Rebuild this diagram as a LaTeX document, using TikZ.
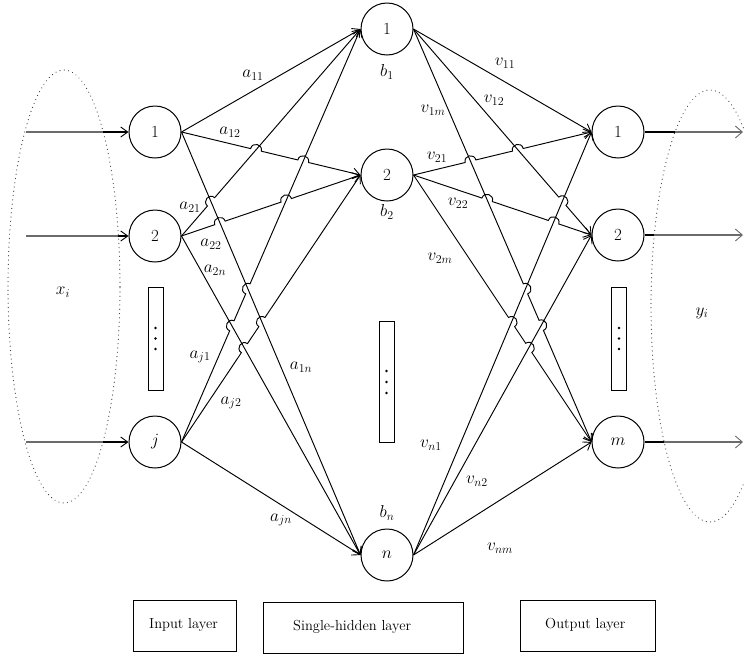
\documentclass[tikz,border=0pt]{standalone}
\usetikzlibrary{arrows.meta,calc,intersections}
\newcommand{\hopat}[3]{%
  \coordinate (#1a) at ($(#1)!5.5pt!(#2)$);
  \coordinate (#1b) at ($(#1)!5.5pt!(#3)$);
  \coordinate (#1c) at ($(#1a)!7.3pt!90:(#1)$);
  \coordinate (#1d) at ($(#1b)!7.3pt!-90:(#1)$);}
\begin{document}
\begin{tikzpicture}[x=1pt,y=-1pt,
  neuron/.style={circle,draw,line width=1pt,minimum size=52pt,inner sep=0pt,font=\fontsize{17}{19}\selectfont},
  conn/.style={line width=0.95pt,-{Straight Barb[length=7pt,width=10pt,line width=0.9pt]}},
  thickout/.style={line width=1.4pt},
  grayline/.style={line width=1.1pt,black!58},
  grayarr/.style={line width=1.1pt,black!58,-{Straight Barb[length=7pt,width=12pt,line width=0.9pt]}},
  lbl/.style={font=\fontsize{17}{19}\selectfont,inner sep=0pt},
  dotbox/.style={draw,line width=1pt,minimum width=15pt,inner sep=0pt},
  layerbox/.style={draw,line width=1pt,inner sep=0pt},
  boxtxt/.style={font=\fontsize{14.5}{16}\selectfont,inner sep=0pt,anchor=west},
  ell/.style={black!75,line width=1.2pt,dash pattern=on 0.01pt off 4.3pt,line cap=round}]
\useasboundingbox (0,0) rectangle (744,654);
\clip (0,0) rectangle (744,654);

% dotted ellipses
\draw[ell] (64,286.5) ellipse [x radius=56pt, y radius=216.5pt];
\draw[ell] (710,306) ellipse [x radius=59pt, y radius=216pt];

% neurons
\node[neuron] (i1) at (155,132) {1};
\node[neuron] (i2) at (155,236) {2};
\node[neuron] (ij) at (155,442) {$j$};
\node[neuron] (h1) at (387,29) {1};
\node[neuron] (h2) at (387,175) {2};
\node[neuron] (hn) at (387,555) {$n$};
\node[neuron] (o1) at (618,132) {1};
\node[neuron] (o2) at (618,235) {2};
\node[neuron] (om) at (618,442) {$m$};

% dots boxes
\node[dotbox,minimum height=103pt] (d1) at (155.5,338.5) {};
\node[dotbox,minimum height=121pt] (d2) at (386.5,381.5) {};
\node[dotbox,minimum height=103pt] (d3) at (619,338.5) {};
\foreach \yy in {328,338.5,349} {\fill (155.5,\yy) circle (1.3pt); \fill (619,\yy) circle (1.3pt);}
\foreach \yy in {371,382,393} {\fill (386.5,\yy) circle (1.3pt);}

% input arrows
\coordinate (s1) at (26,132); \coordinate (g1) at (103,132);
\coordinate (s2) at (26,236); \coordinate (g2) at (118,236);
\coordinate (sj) at (26,442); \coordinate (gj) at (103,442);
\draw[grayline] (s1) -- (g1); \draw[conn,line width=1.3pt] (g1) -- (i1.west);
\draw[grayline] (s2) -- (g2); \draw[conn,line width=1.3pt] (g2) -- (i2.west);
\draw[grayline] (sj) -- (gj); \draw[conn,line width=1.3pt] (gj) -- (ij.west);

% output arrows
\coordinate (e1) at (675,132); \coordinate (t1) at (743,132);
\coordinate (e2) at (654,235); \coordinate (t2) at (743,235);
\coordinate (em) at (664,442); \coordinate (tm) at (743,442);
\draw[thickout] (o1.east) -- (e1); \draw[grayarr] (e1) -- (t1);
\draw[thickout] (o2.east) -- (e2); \draw[grayarr] (e2) -- (t2);
\draw[thickout] (om.east) -- (em); \draw[grayarr] (em) -- (tm);

% ---------- input -> hidden ----------
\path[name path=L1n] (i1.east) -- (hn.west);
\path[name path=L2n] (i2.east) -- (hn.west);
\path[name path=L12] (i1.east) -- (h2.west);
\path[name path=L21] (i2.east) -- (h1.west);
\path[name path=L22] (i2.east) -- (h2.west);
\path[name path=Lj1] (ij.east) -- (h1.west);
\path[name path=Lj2] (ij.east) -- (h2.west);
\path[name intersections={of=L12 and L21,by=p1}];
\path[name intersections={of=L12 and Lj1,by=p2}];
\path[name intersections={of=L21 and L1n,by=p3}];
\path[name intersections={of=L22 and L1n,by=p4}];
\path[name intersections={of=Lj1 and L1n,by=p5}];
\path[name intersections={of=Lj1 and L2n,by=p6}];
\path[name intersections={of=Lj2 and L1n,by=p7}];
\path[name intersections={of=Lj2 and L2n,by=p8}];
\path[name intersections={of=L22 and Lj1,by=p9}];
\hopat{p1}{i1.east}{h2.west}
\hopat{p2}{i1.east}{h2.west}
\hopat{p3}{i2.east}{h1.west}
\hopat{p4}{i2.east}{h2.west}
\hopat{p9}{i2.east}{h2.west}
\hopat{p5}{ij.east}{h1.west}
\hopat{p6}{ij.east}{h1.west}
\hopat{p7}{ij.east}{h2.west}
\hopat{p8}{ij.east}{h2.west}

\draw[conn] (i1.east) -- (h1.west);
\draw[conn] (i1.east) -- (hn.west);
\draw[conn] (i2.east) -- (hn.west);
\draw[conn] (ij.east) -- (hn.west);
\draw[conn] (i1.east) -- (p1a) .. controls (p1c) and (p1d) .. (p1b) -- (p2a) .. controls (p2c) and (p2d) .. (p2b) -- (h2.west);
\draw[conn] (i2.east) -- (p3a) .. controls (p3c) and (p3d) .. (p3b) -- (h1.west);
\draw[conn] (i2.east) -- (p4a) .. controls (p4c) and (p4d) .. (p4b) -- (p9a) .. controls (p9c) and (p9d) .. (p9b) -- (h2.west);
\draw[conn] (ij.east) -- (p6a) .. controls (p6c) and (p6d) .. (p6b) -- (p5a) .. controls (p5c) and (p5d) .. (p5b) -- (h1.west);
\draw[conn] (ij.east) -- (p8a) .. controls (p8c) and (p8d) .. (p8b) -- (p7a) .. controls (p7c) and (p7d) .. (p7b) -- (h2.west);

% ---------- hidden -> output ----------
\path[name path=M1m] (h1.east) -- (om.west);
\path[name path=M2m] (h2.east) -- (om.west);
\path[name path=M12] (h1.east) -- (o2.west);
\path[name path=M21] (h2.east) -- (o1.west);
\path[name path=M22] (h2.east) -- (o2.west);
\path[name path=Mn1] (hn.east) -- (o1.west);
\path[name path=Mn2] (hn.east) -- (o2.west);
\path[name intersections={of=M21 and M1m,by=q1}];
\path[name intersections={of=M21 and M12,by=q2}];
\path[name intersections={of=M22 and M1m,by=q3}];
\path[name intersections={of=M22 and Mn1,by=q4}];
\path[name intersections={of=M12 and Mn1,by=q5}];
\path[name intersections={of=M1m and Mn1,by=q6}];
\path[name intersections={of=M1m and Mn2,by=q7}];
\path[name intersections={of=M2m and Mn1,by=q8}];
\path[name intersections={of=M2m and Mn2,by=q9}];
\hopat{q1}{h2.east}{o1.west}
\hopat{q2}{h2.east}{o1.west}
\hopat{q3}{h2.east}{o2.west}
\hopat{q4}{h2.east}{o2.west}
\hopat{q5}{h1.east}{o2.west}
\hopat{q6}{h1.east}{om.west}
\hopat{q7}{h1.east}{om.west}
\hopat{q8}{h2.east}{om.west}
\hopat{q9}{h2.east}{om.west}

\draw[conn] (h1.east) -- (o1.west);
\draw[conn] (hn.east) -- (o1.west);
\draw[conn] (hn.east) -- (o2.west);
\draw[conn] (hn.east) -- (om.west);
\draw[conn] (h2.east) -- (q1a) .. controls (q1c) and (q1d) .. (q1b) -- (q2a) .. controls (q2c) and (q2d) .. (q2b) -- (o1.west);
\draw[conn] (h2.east) -- (q3a) .. controls (q3c) and (q3d) .. (q3b) -- (q4a) .. controls (q4c) and (q4d) .. (q4b) -- (o2.west);
\draw[conn] (h1.east) -- (q5a) .. controls (q5c) and (q5d) .. (q5b) -- (o2.west);
\draw[conn] (h1.east) -- (q6a) .. controls (q6c) and (q6d) .. (q6b) -- (q7a) .. controls (q7c) and (q7d) .. (q7b) -- (om.west);
\draw[conn] (h2.east) -- (q8a) .. controls (q8c) and (q8d) .. (q8b) -- (q9a) .. controls (q9c) and (q9d) .. (q9b) -- (om.west);

% labels
\node[lbl] (la11) at (253,75) {$a_{11}$};
\node[lbl] (la12) at (230,132) {$a_{12}$};
\node[lbl] (la21) at (190,207) {$a_{21}$};
\node[lbl] (la22) at (211,244) {$a_{22}$};
\node[lbl] (la2n) at (215,270) {$a_{2n}$};
\node[lbl] (laj1) at (200,357) {$a_{j1}$};
\node[lbl] (laj2) at (231,403) {$a_{j2}$};
\node[lbl] (la1n) at (301,367) {$a_{1n}$};
\node[lbl] (lajn) at (281,520) {$a_{jn}$};
\node[lbl] (lb1) at (387,72) {$b_1$};
\node[lbl] (lb2) at (387,212) {$b_2$};
\node[lbl] (lbn) at (387,513) {$b_n$};
\node[lbl] (lv11) at (505,63) {$v_{11}$};
\node[lbl] (lv12) at (494,100) {$v_{12}$};
\node[lbl] (lv1m) at (433,110) {$v_{1m}$};
\node[lbl] (lv21) at (437,157) {$v_{21}$};
\node[lbl] (lv22) at (458,203) {$v_{22}$};
\node[lbl] (lv2m) at (440,258) {$v_{2m}$};
\node[lbl] (lvn1) at (431,445) {$v_{n1}$};
\node[lbl] (lvn2) at (477,481) {$v_{n2}$};
\node[lbl] (lvnm) at (500,548) {$v_{nm}$};
\node[lbl] (lx) at (63,292) {$x_i$};
\node[lbl] (ly) at (702,313) {$y_i$};

% layer boxes
\node[layerbox,minimum width=103pt,minimum height=51pt] (bin) at (184.5,625.5) {};
\node[layerbox,minimum width=200pt,minimum height=51pt] (bhid) at (363,628) {};
\node[layerbox,minimum width=135pt,minimum height=51pt] (bout) at (587.5,625.5) {};
\node[boxtxt] (tin) at (149,625) {Input layer};
\node[boxtxt] (thid) at (293,627) {Single-hidden layer};
\node[boxtxt] (tout) at (545,625) {Output layer};
\end{tikzpicture}
\end{document}
